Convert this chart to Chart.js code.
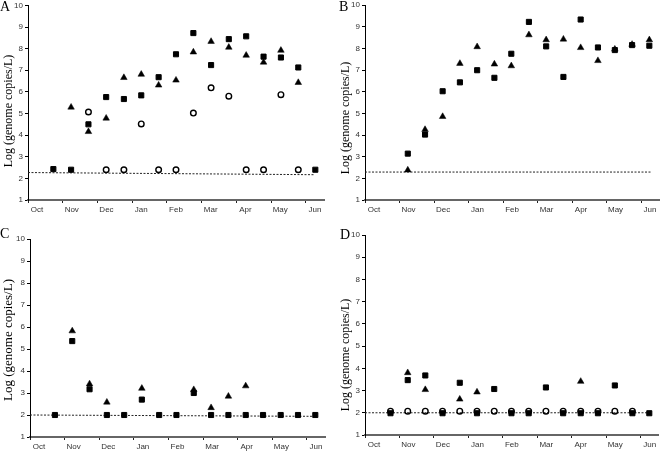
<!DOCTYPE html>
<html>
<head>
<meta charset="utf-8">
<script src="https://cdn.jsdelivr.net/npm/chart.js@4/dist/chart.umd.min.js"></script>
<style>
  body { margin: 0; background: #fff; }
  #lienzo { position: relative; width: 664px; height: 452px; overflow: hidden; }
  #lienzo canvas { position: absolute; left: 0; top: 0; }
  .letra { position: absolute; font-family: "Liberation Serif", serif; font-size: 14px; line-height: 14px; color: #000; }
  .tituloY {
    position: absolute; font-family: "Liberation Serif", serif; font-size: 12px; line-height: 12px;
    color: #000; white-space: nowrap; transform: translate(-50%, -50%) rotate(-90deg);
  }
</style>
</head>
<body>
<div id="lienzo">
  <canvas id="panelA" width="664" height="452"></canvas>
  <canvas id="panelB" width="664" height="452"></canvas>
  <canvas id="panelC" width="664" height="452"></canvas>
  <canvas id="panelD" width="664" height="452"></canvas>
  <div class="letra" style="left:0px;top:0px">A</div>
  <div class="letra" style="left:339px;top:0px">B</div>
  <div class="letra" style="left:0px;top:227px">C</div>
  <div class="letra" style="left:340px;top:228px">D</div>
  <div class="tituloY" style="left:8px;top:111px">Log (genome copies/L)</div>
  <div class="tituloY" style="left:345px;top:118px">Log (genome copies/L)</div>
  <div class="tituloY" style="left:8px;top:340px;font-size:13px">Log (genome copies/L)</div>
  <div class="tituloY" style="left:345px;top:355px">Log (genome copies/L)</div>
</div>
<script>
// meses del eje x (0 = Oct)
const meses = ["Oct", "Nov", "Dec", "Jan", "Feb", "Mar", "Apr", "May", "Jun"];
const ticksY = [1, 2, 3, 4, 5, 6, 7, 8, 9, 10];

// Panel A
const muestrasA = [0.73, 1.24, 1.74, 2.25, 2.76, 3.26, 3.76, 4.26, 4.76, 5.27, 5.78, 6.28, 6.78, 7.28, 7.78, 8.27];
const cuadradosA = [2.43, 2.4, 4.5, 5.76, 5.67, 5.84, 6.68, 7.74, 8.72, 7.24, 8.44, 8.57, 7.63, 7.59, 7.13, 2.4];
const triangulosA = [null, 5.29, 4.16, 4.78, 6.66, 6.81, 6.31, 6.54, 7.84, 8.33, 8.06, 7.69, 7.37, 7.92, 6.43, null];
const circulosA = [null, null, 5.07, 2.4, 2.4, 4.52, 2.4, 2.4, 5.02, 6.19, 5.8, 2.4, 2.4, 5.87, 2.4, null];
const limiteA = [{ x: 0, y: 2.27 }, { x: 8.25, y: 2.17 }];

// Panel B
const muestrasB = [1.24, 1.74, 2.25, 2.75, 3.25, 3.75, 4.24, 4.75, 5.25, 5.75, 6.25, 6.75, 7.24, 7.74, 8.24];
const cuadradosB = [3.14, 4.02, 6.02, 6.43, 6.99, 6.64, 7.75, 9.22, 8.09, 6.68, 9.33, 8.04, 7.92, 8.15, 8.12];
const triangulosB = [2.38, 4.25, 4.85, 7.3, 8.07, 7.27, 7.19, 8.62, 8.39, 8.42, 8.03, 7.43, 7.96, 8.18, 8.39];
const circulosB = [];
const limiteB = [{ x: 0, y: 2.29 }, { x: 8.3, y: 2.29 }];

// Panel C
const muestrasC = [0.72, 1.22, 1.72, 2.22, 2.72, 3.23, 3.73, 4.23, 4.73, 5.23, 5.73, 6.23, 6.73, 7.24, 7.74, 8.24];
const cuadradosC = [2.0, 5.36, 3.17, 2.0, 2.0, 2.7, 2.0, 2.0, 3.0, 2.0, 2.0, 2.0, 2.0, 2.0, 2.0, 2.0];
const triangulosC = [null, 5.82, 3.41, 2.58, null, 3.21, null, null, 3.15, 2.33, 2.85, 3.32, null, null, null, null];
const circulosC = [];
const limiteC = [{ x: 0, y: 2.0 }, { x: 8.24, y: 1.94 }];

// Panel D
const muestrasD = [0.74, 1.24, 1.75, 2.25, 2.75, 3.25, 3.75, 4.25, 4.75, 5.25, 5.75, 6.26, 6.76, 7.25, 7.76, 8.25];
const cuadradosD = [1.98, 3.47, 3.68, 1.98, 3.35, 1.98, 3.07, 1.98, 1.98, 3.14, 1.98, 1.98, 1.98, 3.23, 1.98, 1.98];
const triangulosD = [null, 3.8, 3.04, null, 2.61, 2.93, null, null, null, null, null, 3.41, null, null, null, null];
const circulosD = [2.07, 2.07, 2.07, 2.07, 2.07, 2.07, 2.07, 2.07, 2.07, 2.07, 2.07, 2.07, 2.07, 2.07, 2.07, null];
const limiteD = [{ x: 0, y: 2.0 }, { x: 8.3, y: 2.0 }];

Chart.defaults.font.family = "'Liberation Sans', Arial, sans-serif";
Chart.defaults.font.size = 8;
Chart.defaults.color = "#333";

function puntos(muestras, valores) {
  return muestras.map((x, i) => ({ x: x, y: valores[i] })).filter(p => p.y !== null && p.y !== undefined);
}

function crearPanel(id, muestras, cuadrados, triangulos, circulos, limite, caja) {
  const ctx = document.getElementById(id).getContext("2d");
  return new Chart(ctx, {
    type: "scatter",
    data: {
      datasets: [
        {
          label: "circulos",
          data: puntos(muestras, circulos),
          pointStyle: "circle",
          pointRadius: 2.8,
          backgroundColor: "rgba(0,0,0,0)",
          borderColor: "#000",
          borderWidth: 1.4
        },
        {
          label: "triangulos",
          data: puntos(muestras, triangulos),
          pointStyle: "triangle",
          pointRadius: 3.8,
          backgroundColor: "#000",
          borderColor: "#000",
          borderWidth: 0.5
        },
        {
          label: "cuadrados",
          data: puntos(muestras, cuadrados),
          pointStyle: "rect",
          pointRadius: 3.6,
          backgroundColor: "#000",
          borderColor: "#000",
          borderWidth: 1
        },
        {
          type: "line",
          label: "limite",
          data: limite,
          borderColor: "#222",
          borderWidth: 1,
          borderDash: [2, 1.5],
          pointRadius: 0,
          fill: false
        }
      ]
    },
    options: {
      responsive: false,
      animation: false,
      devicePixelRatio: 1,
      layout: {
        padding: { left: caja.izq, right: caja.der, top: caja.arriba, bottom: caja.abajo }
      },
      plugins: {
        legend: { display: false },
        tooltip: { enabled: false }
      },
      scales: {
        x: {
          type: "linear",
          min: 0,
          max: 8.52,
          afterBuildTicks: (escala) => {
            escala.ticks = meses.map((m, i) => ({ value: i }));
          },
          afterFit: (escala) => {
            escala.height = caja.altoX;
            escala.paddingLeft = 0;
            escala.paddingRight = 0;
          },
          border: { display: true, color: "#666", width: 2 },
          grid: { drawOnChartArea: false, drawTicks: true, tickLength: 3, color: "#222" },
          ticks: {
            padding: 2,
            labelOffset: 9,
            maxRotation: 0,
            autoSkip: false,
            callback: (v) => meses[v]
          }
        },
        y: {
          type: "linear",
          min: 1,
          max: 10,
          afterBuildTicks: (escala) => {
            escala.ticks = ticksY.map(v => ({ value: v }));
          },
          afterFit: (escala) => {
            escala.width = caja.anchoY;
            escala.paddingTop = 0;
            escala.paddingBottom = 0;
          },
          border: { display: true, color: "#000", width: 1 },
          grid: { drawOnChartArea: false, drawTicks: true, tickLength: 3, color: "#000" },
          ticks: { padding: 2 }
        }
      }
    }
  });
}

crearPanel("panelA", muestrasA, cuadradosA, triangulosA, circulosA, limiteA,
  { izq: 0, der: 340, arriba: 3, abajo: 228, anchoY: 28, altoX: 24 });
crearPanel("panelB", muestrasB, cuadradosB, triangulosB, circulosB, limiteB,
  { izq: 337, der: 3, arriba: 3, abajo: 228, anchoY: 28, altoX: 24 });
crearPanel("panelC", muestrasC, cuadradosC, triangulosC, circulosC, limiteC,
  { izq: 0, der: 339, arriba: 239, abajo: 0, anchoY: 30, altoX: 15 });
crearPanel("panelD", muestrasD, cuadradosD, triangulosD, circulosD, limiteD,
  { izq: 337, der: 2, arriba: 235, abajo: 0, anchoY: 28, altoX: 17 });
</script>
</body>
</html>
